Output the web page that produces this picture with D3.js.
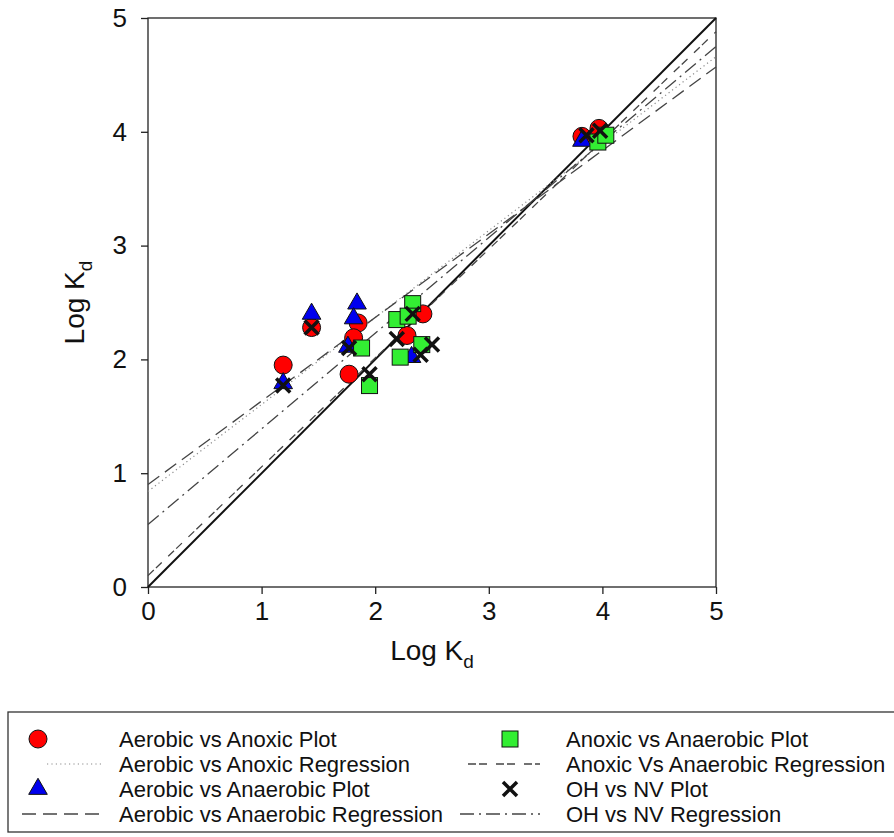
<!DOCTYPE html>
<html>
<head>
<meta charset="utf-8">
<script src="https://cdn.jsdelivr.net/npm/d3@7"></script>
<style>
  body { margin: 0; background: #fff; }
  svg { font-family: "Liberation Sans", Arial, sans-serif; }
</style>
</head>
<body>
<svg id="chart" width="894" height="837"></svg>
<script>
// data: [x, y] in Log Kd units
var aerobicAnoxic = [[1.19, 1.95], [1.44, 2.28], [1.85, 2.32], [1.81, 2.19], [1.77, 1.87],
    [2.42, 2.40], [2.28, 2.21], [3.82, 3.96], [3.97, 4.03]];
var aerobicAnaerobic = [[1.19, 1.79], [1.44, 2.40], [1.84, 2.49], [1.81, 2.36], [1.76, 2.11],
    [2.32, 2.02], [3.82, 3.92]];
var anoxicAnaerobic = [[1.88, 2.10], [1.95, 1.77], [2.33, 2.49], [2.19, 2.35], [2.29, 2.38],
    [2.22, 2.02], [2.41, 2.13], [3.96, 3.91], [4.03, 3.97]];
var ohNv = [[1.19, 1.77], [1.44, 2.28], [1.77, 2.10], [1.95, 1.87], [2.33, 2.40], [2.19, 2.18],
    [2.40, 2.04], [2.50, 2.13], [3.86, 3.97], [3.98, 4.01]];

// regression lines, end points at x = 0 and x = 5
var oneToOne = [[0, 0], [5, 5]];
var regAerobicAnoxic = [[0, 0.84], [5, 4.66]];
var regAerobicAnaerobic = [[0, 0.90], [5, 4.57]];
var regAnoxicAnaerobic = [[0, 0.10], [5, 4.88]];
var regOhNv = [[0, 0.55], [5, 4.75]];

var ticks = [0, 1, 2, 3, 4, 5];

var legendItems = [
    {label: 'Aerobic vs Anoxic Plot', kind: 'circle', col: 0, row: 0},
    {label: 'Aerobic vs Anoxic Regression', kind: 'dotted', col: 0, row: 1},
    {label: 'Aerobic vs Anaerobic Plot', kind: 'triangle', col: 0, row: 2},
    {label: 'Aerobic vs Anaerobic Regression', kind: 'longdash', col: 0, row: 3},
    {label: 'Anoxic vs Anaerobic Plot', kind: 'square', col: 1, row: 0},
    {label: 'Anoxic Vs Anaerobic Regression', kind: 'shortdash', col: 1, row: 1},
    {label: 'OH vs NV Plot', kind: 'cross', col: 1, row: 2},
    {label: 'OH vs NV Regression', kind: 'dashdot', col: 1, row: 3}
];

var styles = {
    dotted: {stroke: '#8a8a8a', dash: '1.2,3.2', width: 1.2},
    longdash: {stroke: '#444', dash: '14,7', width: 1.3},
    shortdash: {stroke: '#444', dash: '8,3,8,9', width: 1.3},
    dashdot: {stroke: '#444', dash: '14,5,2,5', width: 1.3}
};

var svg = d3.select('#chart');
var pLeft = 148, pTop = 18, pRight = 716, pBottom = 587;

var x = d3.scaleLinear().domain([0, 5]).range([pLeft, pRight]);
var y = d3.scaleLinear().domain([0, 5]).range([pBottom, pTop]);

var line = d3.line().x(function(d) { return x(d[0]); }).y(function(d) { return y(d[1]); });

// frame
svg.append('rect').attr('x', pLeft).attr('y', pTop)
    .attr('width', pRight - pLeft).attr('height', pBottom - pTop)
    .attr('fill', 'none').attr('stroke', '#222').attr('stroke-width', 1.3);

var xAxis = svg.append('g').attr('transform', 'translate(0,' + pBottom + ')')
    .call(d3.axisBottom(x).tickValues(ticks).tickSize(7).tickPadding(8).tickFormat(d3.format('d')));
var yAxis = svg.append('g').attr('transform', 'translate(' + pLeft + ',0)')
    .call(d3.axisLeft(y).tickValues(ticks).tickSize(7).tickPadding(14).tickFormat(d3.format('d')));
[xAxis, yAxis].forEach(function(a) {
    a.attr('font-size', 26).attr('font-family', '"Liberation Sans", Arial, sans-serif');
    a.select('.domain').remove();
    a.selectAll('line').attr('stroke', '#222').attr('stroke-width', 1.3);
    a.selectAll('text').attr('fill', '#111');
});

// axis titles
var xt = svg.append('text').attr('x', (pLeft + pRight) / 2).attr('y', 660)
    .attr('text-anchor', 'middle').attr('font-size', 28).attr('fill', '#111');
xt.append('tspan').text('Log K');
xt.append('tspan').attr('font-size', 19).attr('dy', 8).text('d');

var yt = svg.append('text').attr('transform', 'translate(84,' + ((pTop + pBottom) / 2) + ') rotate(-90)')
    .attr('text-anchor', 'middle').attr('font-size', 28).attr('fill', '#111');
yt.append('tspan').text('Log K');
yt.append('tspan').attr('font-size', 19).attr('dy', 8).text('d');

// lines
var plot = svg.append('g');
plot.append('path').attr('d', line(oneToOne)).attr('stroke', '#111')
    .attr('stroke-width', 2).attr('fill', 'none');
[[regAerobicAnoxic, 'dotted'], [regAerobicAnaerobic, 'longdash'],
 [regAnoxicAnaerobic, 'shortdash'], [regOhNv, 'dashdot']].forEach(function(r) {
    var s = styles[r[1]];
    plot.append('path').attr('d', line(r[0])).attr('fill', 'none')
        .attr('stroke', s.stroke).attr('stroke-width', s.width).attr('stroke-dasharray', s.dash);
});

// markers
function marker(g, kind, cx, cy) {
    if (kind === 'circle') {
        g.append('circle').attr('cx', cx).attr('cy', cy).attr('r', 9)
            .attr('fill', '#ff0000').attr('stroke', '#111').attr('stroke-width', 1);
    } else if (kind === 'triangle') {
        g.append('path').attr('transform', 'translate(' + cx + ',' + cy + ')')
            .attr('d', d3.symbol(d3.symbolTriangle, 150)())
            .attr('fill', '#0000ee').attr('stroke', '#111').attr('stroke-width', 1);
    } else if (kind === 'square') {
        g.append('rect').attr('x', cx - 8).attr('y', cy - 8).attr('width', 16).attr('height', 16)
            .attr('fill', '#33ee33').attr('stroke', '#111').attr('stroke-width', 1);
    } else if (kind === 'cross') {
        g.append('path').attr('d', 'M' + (cx - 7) + ',' + (cy - 7) + 'L' + (cx + 7) + ',' + (cy + 7) +
            'M' + (cx - 7) + ',' + (cy + 7) + 'L' + (cx + 7) + ',' + (cy - 7))
            .attr('stroke', '#111').attr('stroke-width', 3.5).attr('fill', 'none');
    }
}

[[aerobicAnoxic, 'circle'], [aerobicAnaerobic, 'triangle'],
 [anoxicAnaerobic, 'square'], [ohNv, 'cross']].forEach(function(set) {
    set[0].forEach(function(d) { marker(plot, set[1], x(d[0]), y(d[1])); });
});

// legend
var lg = svg.append('g');
lg.append('rect').attr('x', 8).attr('y', 712).attr('width', 900).attr('height', 120)
    .attr('fill', 'none').attr('stroke', '#333').attr('stroke-width', 1.3);
var colSym = [38, 510], colText = [119, 566], colLine = [[22, 102], [460, 540]];
var rowY = [739, 764, 789, 814];
legendItems.forEach(function(it) {
    var cy = rowY[it.row];
    if (styles[it.kind]) {
        var s = styles[it.kind];
        var x0 = colLine[it.col][0], x1 = colLine[it.col][1];
        if (it.kind === 'dotted') x0 = 47;
        if (it.kind === 'shortdash') x0 = 468;
        lg.append('line').attr('x1', x0).attr('x2', x1).attr('y1', cy).attr('y2', cy)
            .attr('stroke', s.stroke).attr('stroke-width', s.width).attr('stroke-dasharray', s.dash);
    } else {
        marker(lg, it.kind, colSym[it.col], cy);
    }
    lg.append('text').attr('x', colText[it.col]).attr('y', cy).attr('dy', '0.35em')
        .attr('font-size', 22).attr('fill', '#111').text(it.label);
});
</script>
</body>
</html>
